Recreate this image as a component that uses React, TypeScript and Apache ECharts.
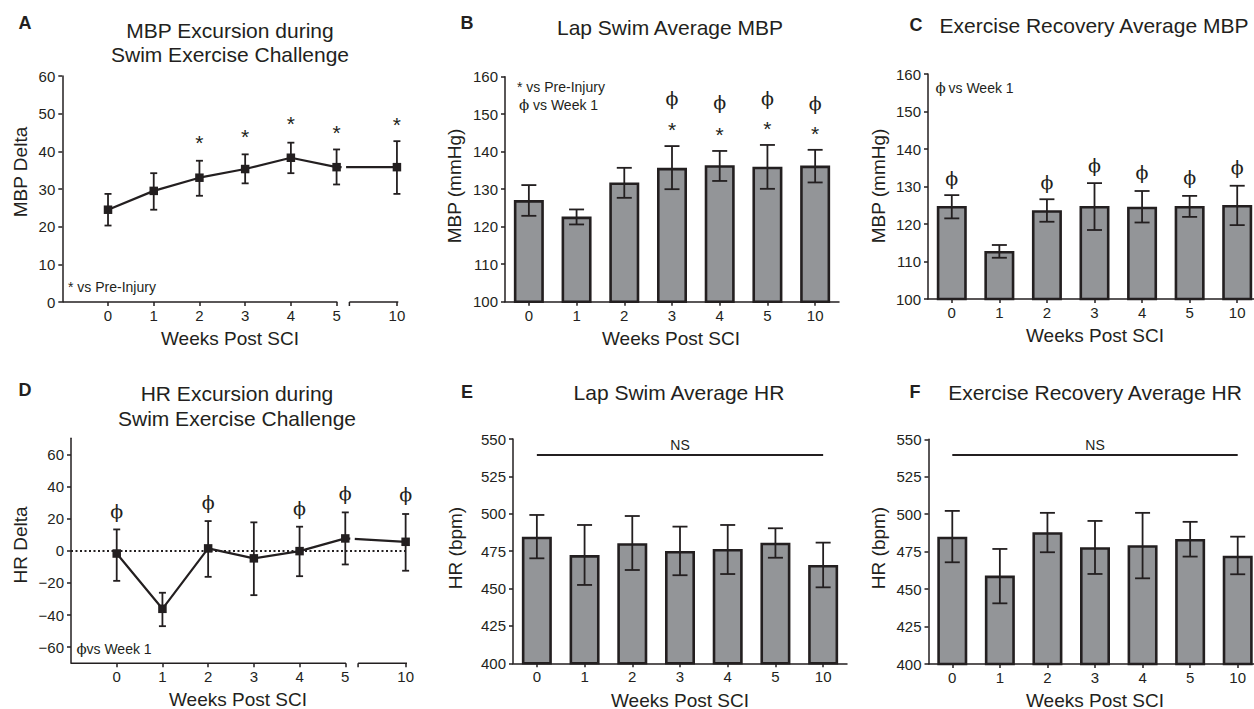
import React, { useEffect, useRef } from 'react';
import * as echarts from 'echarts';

// ---------- data ----------
const WEEKS = ['0', '1', '2', '3', '4', '5', '10'];
const WEEK_NUM = [0, 1, 2, 3, 4, 5, 10];

// A: MBP excursion (line)
const A_MEAN = [24.5, 29.5, 33.0, 35.3, 38.3, 35.8, 35.8];
const A_LOW = [20.3, 24.5, 28.2, 31.5, 34.2, 31.2, 28.7];
const A_HIGH = [28.7, 34.2, 37.5, 39.2, 42.3, 40.5, 42.7];
const A_STAR_WEEKS = [2, 3, 4, 5, 10];
const A_STAR_Y = [43.5, 45.1, 48.8, 46.4, 48.5];

// B: Lap swim average MBP
const B_MEAN = [127.1, 122.7, 131.8, 135.7, 136.4, 136.0, 136.3];
const B_LOW = [122.9, 120.6, 127.7, 130.0, 132.2, 130.1, 131.8];
const B_HIGH = [131.1, 124.6, 135.7, 141.5, 140.2, 141.8, 140.5];
const B_MARK_WEEKS = ['3', '4', '5', '10'];
const B_PHI_Y = [154.2, 153.3, 154.4, 153.1];
const B_STAR_Y = [147.1, 145.8, 147.4, 146.2];

// C: Exercise recovery average MBP
const C_MEAN = [124.8, 112.8, 123.7, 124.8, 124.6, 124.8, 125.1];
const C_LOW = [121.5, 111.0, 120.6, 118.4, 120.4, 121.9, 119.7];
const C_HIGH = [127.7, 114.4, 126.6, 130.9, 128.8, 127.5, 130.2];
const C_PHI_WEEKS = ['0', '2', '3', '4', '5', '10'];
const C_PHI_Y = [132.4, 131.3, 135.7, 133.8, 132.6, 135.3];

// D: HR excursion (line)
const D_MEAN = [-1.7, -36.1, 1.5, -4.7, -0.2, 7.7, 5.6];
const D_LOW = [-18.7, -46.9, -16.2, -27.6, -15.8, -8.5, -12.4];
const D_HIGH = [13.3, -26.1, 18.5, 17.7, 15.0, 23.9, 22.9];
const D_PHI_WEEKS = [0, 2, 4, 5, 10];
const D_PHI_Y = [24.7, 30.1, 26.4, 35.7, 35.3];
const D_TICKS = [-60, -40, -20, 0, 20, 40, 60];

// E: Lap swim average HR
const E_MEAN = [484.7, 472.4, 480.3, 475.1, 476.5, 480.7, 465.8];
const E_LOW = [470.2, 452.4, 462.4, 458.9, 459.7, 470.6, 450.8];
const E_HIGH = [499.2, 492.5, 498.5, 491.4, 492.5, 490.3, 480.7];
const E_NS_Y = 539.3;

// F: Exercise recovery average HR
const F_MEAN = [485.0, 459.0, 488.0, 478.0, 479.3, 483.5, 472.3];
const F_LOW = [467.9, 440.5, 474.6, 460.1, 457.2, 471.7, 459.9];
const F_HIGH = [502.2, 476.8, 500.9, 495.5, 500.9, 494.9, 485.0];
const F_NS_Y = 539.4;

// ---------- style / layout ----------
const INK = '#231f20';
const BAR_FILL = '#939598';
const SANS = '"Liberation Sans", Arial, Helvetica, sans-serif';
const SERIF = '"DejaVu Serif", "Liberation Serif", serif';

// broken x axis for line panels (weeks 0..5, break, 10)
const BREAK_WEEK = 5;
const BREAK_SPAN = 1.32;
const X_MIN = -1;
const X_MAX = 6.35;
const SEG2_START = 5.28;
const brokenPos = (w: number) => (w <= BREAK_WEEK ? w : BREAK_WEEK + BREAK_SPAN);
const TICK_POS = WEEK_NUM.map(brokenPos);
const posLabel = (v: number) => {
  const i = TICK_POS.findIndex((p) => Math.abs(p - v) < 1e-6);
  return i >= 0 ? WEEKS[i] : '';
};

const GRIDS = [
  { left: 62.3, top: 76, width: 336, height: 226 }, // A
  { left: 505, top: 76.7, width: 334, height: 225 }, // B
  { left: 928, top: 74, width: 333, height: 225 }, // C
  { left: 71, top: 438.3, width: 336, height: 225 }, // D
  { left: 513, top: 439, width: 334, height: 224.3 }, // E
  { left: 928.5, top: 439.3, width: 333, height: 224.7 }, // F
];

const lineStyle = { color: INK, width: 1.5 };
const tickLabel = { color: INK, fontSize: 15, fontFamily: SANS };

function catX(i: number) {
  return {
    type: 'category', gridIndex: i, data: WEEKS,
    axisLine: { show: true, onZero: false, lineStyle },
    axisTick: { show: true, alignWithLabel: true, length: 4, lineStyle },
    axisLabel: { ...tickLabel, margin: 6 },
    splitLine: { show: false },
  };
}
function brokenX(i: number) {
  return {
    type: 'value', gridIndex: i, min: X_MIN, max: X_MAX,
    axisLine: { show: false, onZero: false },
    axisTick: { show: true, length: 4, lineStyle, customValues: TICK_POS },
    axisLabel: { ...tickLabel, margin: 6, customValues: TICK_POS, formatter: (v: number) => posLabel(v) },
    splitLine: { show: false },
  };
}
function valY(i: number, min: number, max: number, interval: number) {
  return {
    type: 'value', gridIndex: i, min, max, interval,
    axisLine: { show: true, onZero: false, lineStyle },
    axisTick: { show: true, length: 4, lineStyle },
    axisLabel: { ...tickLabel, margin: 7 },
    splitLine: { show: false },
  };
}

function errorBars(axis: number, data: any[], capHalf: number) {
  return {
    type: 'custom', xAxisIndex: axis, yAxisIndex: axis, data, z: 5, silent: true, clip: false,
    renderItem: (_p: any, api: any) => {
      const x = api.value(0);
      const lo = api.coord([x, api.value(1)]);
      const hi = api.coord([x, api.value(2)]);
      const style = { stroke: INK, lineWidth: 1.8, fill: null };
      return {
        type: 'group',
        children: [
          { type: 'line', shape: { x1: lo[0], y1: lo[1], x2: hi[0], y2: hi[1] }, style },
          { type: 'line', shape: { x1: lo[0] - capHalf, y1: lo[1], x2: lo[0] + capHalf, y2: lo[1] }, style },
          { type: 'line', shape: { x1: hi[0] - capHalf, y1: hi[1], x2: hi[0] + capHalf, y2: hi[1] }, style },
        ],
      };
    },
  };
}

function marks(axis: number, data: any[], text: string, serif: boolean) {
  const fontSize = serif ? 19 : 21;
  const dy = serif ? 0 : fontSize * 0.23;
  return {
    type: 'custom', xAxisIndex: axis, yAxisIndex: axis, data, z: 6, silent: true, clip: false,
    renderItem: (_p: any, api: any) => {
      const p = api.coord([api.value(0), api.value(1)]);
      return {
        type: 'text', x: p[0], y: p[1] + dy,
        style: {
          text, fill: INK, fontSize, fontFamily: serif ? SERIF : SANS,
          align: 'center', verticalAlign: 'middle', textAlign: 'center', textVerticalAlign: 'middle',
        },
      };
    },
  };
}

function barSeries(axis: number, values: number[]) {
  return {
    type: 'bar', xAxisIndex: axis, yAxisIndex: axis, data: values, barWidth: 30, z: 2,
    itemStyle: { color: BAR_FILL, borderColor: INK, borderWidth: 2.6 },
  };
}

function axisBreak(axis: number, yBase: number) {
  return {
    type: 'custom', xAxisIndex: axis, yAxisIndex: axis, data: [[X_MIN, yBase]], z: 3, silent: true, clip: false,
    renderItem: (_p: any, api: any) => {
      const y = api.value(1);
      const a = api.coord([X_MIN, y]);
      const b = api.coord([BREAK_WEEK, y]);
      const c = api.coord([SEG2_START, y]);
      const d = api.coord([X_MAX, y]);
      const style = { stroke: INK, lineWidth: 1.5, fill: null };
      return {
        type: 'group',
        children: [
          { type: 'line', shape: { x1: a[0], y1: a[1], x2: b[0] + 0.75, y2: b[1] }, style },
          { type: 'line', shape: { x1: c[0], y1: c[1], x2: d[0], y2: d[1] }, style },
          { type: 'line', shape: { x1: c[0], y1: c[1], x2: c[0], y2: c[1] + 4 }, style },
        ],
      };
    },
  };
}

function lineGap(axis: number, means: number[]) {
  return {
    type: 'custom', xAxisIndex: axis, yAxisIndex: axis,
    data: [[brokenPos(5), means[5], brokenPos(10), means[6]]], z: 4, silent: true, clip: false,
    renderItem: (_p: any, api: any) => {
      const p1 = api.coord([api.value(0), api.value(1)]);
      const p2 = api.coord([api.value(2), api.value(3)]);
      const dx = p2[0] - p1[0];
      const dyy = p2[1] - p1[1];
      const len = Math.sqrt(dx * dx + dyy * dyy);
      const ux = dx / len;
      const uy = dyy / len;
      return {
        type: 'line',
        shape: { x1: p1[0] + ux * 5, y1: p1[1] + uy * 5, x2: p1[0] + ux * 9.5, y2: p1[1] + uy * 9.5 },
        style: { stroke: '#ffffff', lineWidth: 4 },
      };
    },
  };
}

function lineSeries(axis: number, means: number[], extra: any = {}) {
  return {
    type: 'line', xAxisIndex: axis, yAxisIndex: axis,
    data: WEEK_NUM.map((w, i) => [brokenPos(w), means[i]]),
    symbol: 'rect', symbolSize: 8.5, showSymbol: true, z: 2,
    lineStyle: { color: INK, width: 2.2 }, itemStyle: { color: INK },
    ...extra,
  };
}

function txt(text: string, x: number, y: number, fontSize: number, opts: any = {}) {
  const { align = 'center', weight = 'normal', family = SANS, rotation = 0 } = opts;
  return {
    type: 'text', x, y, rotation, silent: true,
    style: {
      text, fill: INK, fontSize, fontWeight: weight, fontFamily: family,
      align, verticalAlign: 'middle', textAlign: align, textVerticalAlign: 'middle',
    },
  };
}

const TITLE = 21;
const AXNAME = 19;
const LETTER = 18;
const NOTE = 14;

const graphics = [
  // panel letters
  txt('A', 25, 23, LETTER, { weight: 'bold' }),
  txt('B', 467, 23, LETTER, { weight: 'bold' }),
  txt('C', 916, 25, LETTER, { weight: 'bold' }),
  txt('D', 25, 390, LETTER, { weight: 'bold' }),
  txt('E', 467, 392, LETTER, { weight: 'bold' }),
  txt('F', 915, 392, LETTER, { weight: 'bold' }),
  // titles
  txt('MBP Excursion during', 230, 30, TITLE),
  txt('Swim Exercise Challenge', 230, 54, TITLE),
  txt('Lap Swim Average MBP', 670, 27, TITLE),
  txt('Exercise Recovery Average MBP', 1094, 25, TITLE),
  txt('HR Excursion during', 237, 393, TITLE),
  txt('Swim Exercise Challenge', 237, 418, TITLE),
  txt('Lap Swim Average HR', 679, 392, TITLE),
  txt('Exercise Recovery Average HR', 1095, 392, TITLE),
  // x axis names
  txt('Weeks Post SCI', 230, 338, AXNAME),
  txt('Weeks Post SCI', 671, 338, AXNAME),
  txt('Weeks Post SCI', 1095, 335, AXNAME),
  txt('Weeks Post SCI', 238, 699, AXNAME),
  txt('Weeks Post SCI', 680, 700, AXNAME),
  txt('Weeks Post SCI', 1095, 700, AXNAME),
  // y axis names
  txt('MBP Delta', 20, 172, AXNAME, { rotation: Math.PI / 2 }),
  txt('MBP (mmHg)', 454, 186, AXNAME, { rotation: Math.PI / 2 }),
  txt('MBP (mmHg)', 878, 186, AXNAME, { rotation: Math.PI / 2 }),
  txt('HR Delta', 20, 545, AXNAME, { rotation: Math.PI / 2 }),
  txt('HR (bpm)', 455, 548, AXNAME, { rotation: Math.PI / 2 }),
  txt('HR (bpm)', 878, 548, AXNAME, { rotation: Math.PI / 2 }),
  // notes
  txt('* vs Pre-Injury', 68, 287, NOTE, { align: 'left' }),
  txt('* vs Pre-Injury', 517, 87, NOTE, { align: 'left' }),
  txt('\u03D5', 524, 105, 15, { family: SERIF }),
  txt('vs Week 1', 533, 105, NOTE, { align: 'left' }),
  txt('\u03D5', 940.5, 88, 15, { family: SERIF }),
  txt('vs Week 1', 948.5, 88, NOTE, { align: 'left' }),
  txt('\u03D5', 81.5, 649, 15, { family: SERIF }),
  txt('vs Week 1', 86.5, 649, NOTE, { align: 'left' }),
];

const nsLine = (y: number) => ({
  silent: true,
  symbol: ['none', 'none'],
  lineStyle: { color: INK, width: 2, type: 'solid' },
  label: { show: true, formatter: 'NS', position: 'insideMiddleTop', distance: 3, color: INK, fontSize: NOTE, fontFamily: SANS },
  data: [[{ coord: ['0', y] }, { coord: ['10', y] }]],
});

const option: any = {
  animation: false,
  backgroundColor: '#ffffff',
  grid: GRIDS.map((g) => ({ ...g, containLabel: false, outerBoundsMode: 'none' })),
  xAxis: [brokenX(0), catX(1), catX(2), brokenX(3), catX(4), catX(5)],
  yAxis: [
    valY(0, 0, 60, 10),
    valY(1, 100, 160, 10),
    valY(2, 100, 160, 10),
    {
      type: 'value', gridIndex: 3, min: -70, max: 70,
      axisLine: { show: true, onZero: false, lineStyle },
      axisTick: { show: true, length: 4, lineStyle, customValues: D_TICKS },
      axisLabel: {
        ...tickLabel, margin: 7, customValues: D_TICKS,
        formatter: (v: number) => (v < 0 ? '\u2212' + Math.abs(v) : String(v)),
      },
      splitLine: { show: false },
    },
    valY(4, 400, 550, 25),
    valY(5, 400, 550, 25),
  ],
  graphic: graphics,
  series: [
    // A
    axisBreak(0, 0),
    lineSeries(0, A_MEAN),
    lineGap(0, A_MEAN),
    errorBars(0, WEEK_NUM.map((w, i) => [brokenPos(w), A_LOW[i], A_HIGH[i]]), 3.5),
    marks(0, A_STAR_WEEKS.map((w, i) => [brokenPos(w), A_STAR_Y[i]]), '*', false),
    // B
    barSeries(1, B_MEAN),
    errorBars(1, WEEKS.map((w, i) => [w, B_LOW[i], B_HIGH[i]]), 7.5),
    marks(1, B_MARK_WEEKS.map((w, i) => [w, B_PHI_Y[i]]), '\u03D5', true),
    marks(1, B_MARK_WEEKS.map((w, i) => [w, B_STAR_Y[i]]), '*', false),
    // C
    barSeries(2, C_MEAN),
    errorBars(2, WEEKS.map((w, i) => [w, C_LOW[i], C_HIGH[i]]), 7.5),
    marks(2, C_PHI_WEEKS.map((w, i) => [w, C_PHI_Y[i]]), '\u03D5', true),
    // D
    axisBreak(3, -70),
    lineSeries(3, D_MEAN, {
      markLine: {
        silent: true, symbol: ['none', 'none'],
        lineStyle: { color: INK, width: 2.2, type: [2, 2.5] },
        label: { show: false },
        data: [{ yAxis: 0 }],
      },
    }),
    lineGap(3, D_MEAN),
    errorBars(3, WEEK_NUM.map((w, i) => [brokenPos(w), D_LOW[i], D_HIGH[i]]), 3.5),
    marks(3, D_PHI_WEEKS.map((w, i) => [brokenPos(w), D_PHI_Y[i]]), '\u03D5', true),
    // E
    { ...barSeries(4, E_MEAN), markLine: nsLine(E_NS_Y) },
    errorBars(4, WEEKS.map((w, i) => [w, E_LOW[i], E_HIGH[i]]), 7.5),
    // F
    { ...barSeries(5, F_MEAN), markLine: nsLine(F_NS_Y) },
    errorBars(5, WEEKS.map((w, i) => [w, F_LOW[i], F_HIGH[i]]), 7.5),
  ],
};

export default function App() {
  const ref = useRef<HTMLDivElement>(null);
  useEffect(() => {
    const chart = echarts.init(ref.current as HTMLDivElement, null, { renderer: 'svg' });
    chart.setOption(option);
    return () => chart.dispose();
  }, []);
  return (
    <div
      ref={ref}
      style={{ position: 'fixed', left: 0, top: 0, width: 1254, height: 709, background: '#ffffff' }}
    />
  );
}
